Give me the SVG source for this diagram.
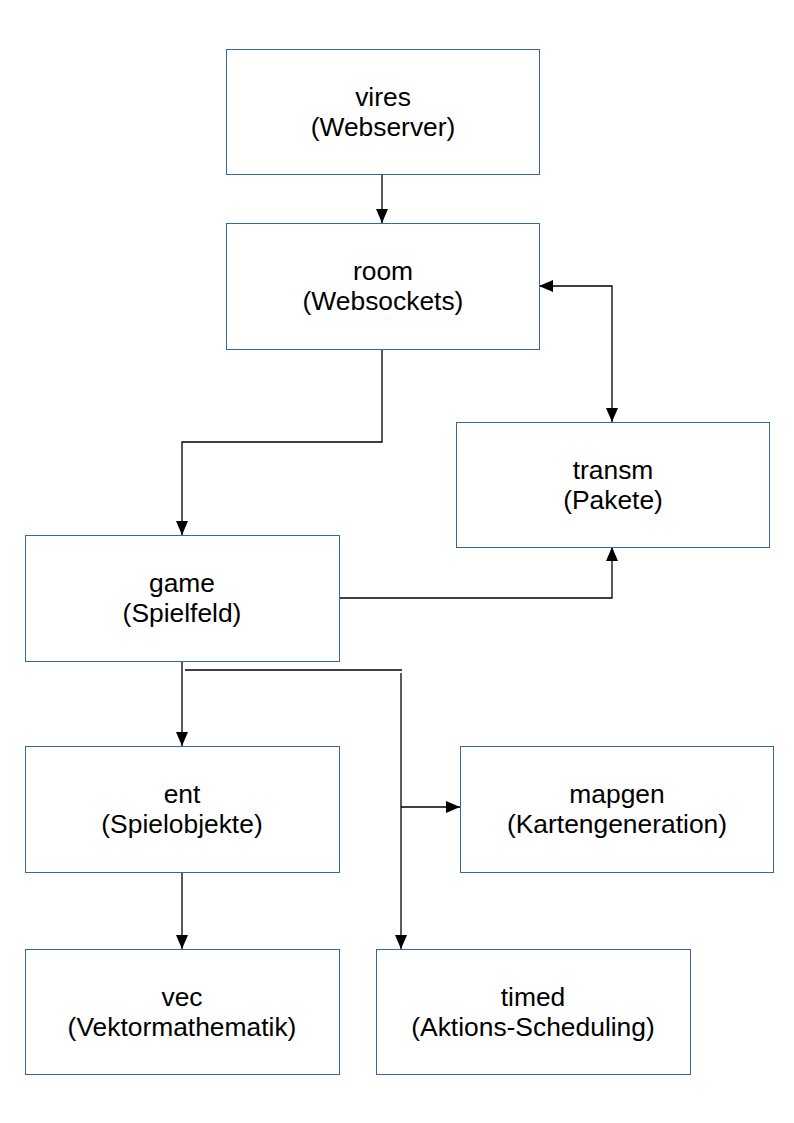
<svg xmlns="http://www.w3.org/2000/svg" width="794" height="1123" viewBox="0 0 794 1123">
<style>
.box{fill:#fff;stroke:#3465a4;stroke-width:1}
.t{font-family:"Liberation Sans",Arial,sans-serif;font-size:26.4px;fill:#000;text-anchor:middle}
.c{fill:none;stroke:#000;stroke-width:1.3}
</style>
<defs>
<marker id="ah" viewBox="0 0 14 12" refX="14" refY="6" markerWidth="14" markerHeight="12" markerUnits="userSpaceOnUse" orient="auto-start-reverse">
<path d="M0,0 L14,6 L0,12 Z" fill="#000"/>
</marker>
</defs>
<rect width="794" height="1123" fill="#fff"/>
<g id="connectors">
<path class="c" d="M382,174 V223" marker-end="url(#ah)"/>
<path class="c" d="M382,349 V442 H182 V535" marker-end="url(#ah)"/>
<path class="c" d="M539,286 H612 V422" marker-start="url(#ah)" marker-end="url(#ah)"/>
<path class="c" d="M339,598 H612 V547" marker-end="url(#ah)"/>
<path class="c" d="M182,661 V746" marker-end="url(#ah)"/>
<path class="c" d="M185,670 H402"/>
<path class="c" d="M401,673 V949" marker-end="url(#ah)"/>
<path class="c" d="M401,807 H460" marker-end="url(#ah)"/>
<path class="c" d="M182,872 V949" marker-end="url(#ah)"/>
</g>
<g id="vires"><rect class="box" x="226.5" y="49.5" width="313" height="125"/><text class="t" x="383" y="106">vires</text><text class="t" x="383" y="136">(Webserver)</text></g>
<g id="room"><rect class="box" x="226.5" y="223.5" width="313" height="126"/><text class="t" x="383" y="280">room</text><text class="t" x="383" y="310">(Websockets)</text></g>
<g id="transm"><rect class="box" x="456.5" y="422.5" width="313" height="125"/><text class="t" x="613" y="479">transm</text><text class="t" x="613" y="509">(Pakete)</text></g>
<g id="game"><rect class="box" x="25.5" y="535.5" width="314" height="126"/><text class="t" x="182" y="592">game</text><text class="t" x="182" y="622">(Spielfeld)</text></g>
<g id="ent"><rect class="box" x="25.5" y="746.5" width="314" height="126"/><text class="t" x="182" y="803">ent</text><text class="t" x="182" y="833">(Spielobjekte)</text></g>
<g id="mapgen"><rect class="box" x="460.5" y="746.5" width="313" height="126"/><text class="t" x="617" y="803">mapgen</text><text class="t" x="617" y="833">(Kartengeneration)</text></g>
<g id="vec"><rect class="box" x="25.5" y="949.5" width="314" height="125"/><text class="t" x="182" y="1006">vec</text><text class="t" x="182" y="1036">(Vektormathematik)</text></g>
<g id="timed"><rect class="box" x="376.5" y="949.5" width="314" height="125"/><text class="t" x="533" y="1006">timed</text><text class="t" x="533" y="1036">(Aktions-Scheduling)</text></g>
</svg>
